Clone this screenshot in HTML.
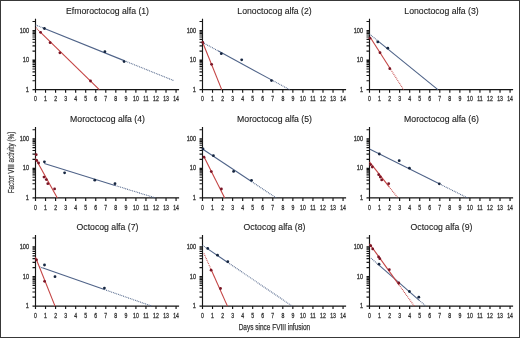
<!DOCTYPE html>
<html><head><meta charset="utf-8"><style>
html,body{margin:0;padding:0;background:#fff;}
body{width:520px;height:338px;overflow:hidden;font-family:"Liberation Sans", sans-serif;}
svg{display:block;}
</style></head><body>
<svg width="520" height="338" viewBox="0 0 520 338">
<defs><filter id="bl" x="-5%" y="-5%" width="110%" height="110%"><feGaussianBlur stdDeviation="0.35"/></filter></defs>
<rect x="0" y="0" width="520" height="338" fill="#fff"/>
<g filter="url(#bl)">
<text x="107.50" y="13.75" font-family="Liberation Sans, sans-serif" font-size="8.7" text-anchor="middle" fill="#222" stroke="#222" stroke-width="0.12">Efmoroctocog alfa (1)</text>
<path d="M35.50 18.65V89.65H179.10 M32.50 89.65H35.50 M32.50 80.74H35.50 M32.50 75.53H35.50 M32.50 71.83H35.50 M32.50 68.96H35.50 M32.50 66.62H35.50 M32.50 64.64H35.50 M32.50 62.92H35.50 M32.50 61.40H35.50 M32.50 60.05H35.50 M32.50 51.14H35.50 M32.50 45.93H35.50 M32.50 42.23H35.50 M32.50 39.36H35.50 M32.50 37.02H35.50 M32.50 35.04H35.50 M32.50 33.32H35.50 M32.50 31.80H35.50 M32.50 30.45H35.50 M32.50 21.54H35.50 M35.50 89.65V92.65 M45.54 89.65V92.65 M55.58 89.65V92.65 M65.62 89.65V92.65 M75.66 89.65V92.65 M85.70 89.65V92.65 M95.74 89.65V92.65 M105.78 89.65V92.65 M115.82 89.65V92.65 M125.86 89.65V92.65 M135.90 89.65V92.65 M145.94 89.65V92.65 M155.98 89.65V92.65 M166.02 89.65V92.65 M176.06 89.65V92.65" stroke="#161616" stroke-width="1.15" fill="none"/>
<text x="29.00" y="91.85" font-family="Liberation Sans, sans-serif" font-size="6.5" text-anchor="end" fill="#333" stroke="#333" stroke-width="0.28" transform="translate(29.00 0) scale(0.86 1) translate(-29.00 0)">1</text>
<text x="29.00" y="62.25" font-family="Liberation Sans, sans-serif" font-size="6.5" text-anchor="end" fill="#333" stroke="#333" stroke-width="0.28" transform="translate(29.00 0) scale(0.86 1) translate(-29.00 0)">10</text>
<text x="29.00" y="32.65" font-family="Liberation Sans, sans-serif" font-size="6.5" text-anchor="end" fill="#333" stroke="#333" stroke-width="0.28" transform="translate(29.00 0) scale(0.86 1) translate(-29.00 0)">100</text>
<text x="35.50" y="101.35" font-family="Liberation Sans, sans-serif" font-size="6.3" text-anchor="middle" fill="#333" stroke="#333" stroke-width="0.28" transform="translate(35.50 0) scale(0.82 1) translate(-35.50 0)">0</text>
<text x="45.54" y="101.35" font-family="Liberation Sans, sans-serif" font-size="6.3" text-anchor="middle" fill="#333" stroke="#333" stroke-width="0.28" transform="translate(45.54 0) scale(0.82 1) translate(-45.54 0)">1</text>
<text x="55.58" y="101.35" font-family="Liberation Sans, sans-serif" font-size="6.3" text-anchor="middle" fill="#333" stroke="#333" stroke-width="0.28" transform="translate(55.58 0) scale(0.82 1) translate(-55.58 0)">2</text>
<text x="65.62" y="101.35" font-family="Liberation Sans, sans-serif" font-size="6.3" text-anchor="middle" fill="#333" stroke="#333" stroke-width="0.28" transform="translate(65.62 0) scale(0.82 1) translate(-65.62 0)">3</text>
<text x="75.66" y="101.35" font-family="Liberation Sans, sans-serif" font-size="6.3" text-anchor="middle" fill="#333" stroke="#333" stroke-width="0.28" transform="translate(75.66 0) scale(0.82 1) translate(-75.66 0)">4</text>
<text x="85.70" y="101.35" font-family="Liberation Sans, sans-serif" font-size="6.3" text-anchor="middle" fill="#333" stroke="#333" stroke-width="0.28" transform="translate(85.70 0) scale(0.82 1) translate(-85.70 0)">5</text>
<text x="95.74" y="101.35" font-family="Liberation Sans, sans-serif" font-size="6.3" text-anchor="middle" fill="#333" stroke="#333" stroke-width="0.28" transform="translate(95.74 0) scale(0.82 1) translate(-95.74 0)">6</text>
<text x="105.78" y="101.35" font-family="Liberation Sans, sans-serif" font-size="6.3" text-anchor="middle" fill="#333" stroke="#333" stroke-width="0.28" transform="translate(105.78 0) scale(0.82 1) translate(-105.78 0)">7</text>
<text x="115.82" y="101.35" font-family="Liberation Sans, sans-serif" font-size="6.3" text-anchor="middle" fill="#333" stroke="#333" stroke-width="0.28" transform="translate(115.82 0) scale(0.82 1) translate(-115.82 0)">8</text>
<text x="125.86" y="101.35" font-family="Liberation Sans, sans-serif" font-size="6.3" text-anchor="middle" fill="#333" stroke="#333" stroke-width="0.28" transform="translate(125.86 0) scale(0.82 1) translate(-125.86 0)">9</text>
<text x="135.90" y="101.35" font-family="Liberation Sans, sans-serif" font-size="6.3" text-anchor="middle" fill="#333" stroke="#333" stroke-width="0.28" transform="translate(135.90 0) scale(0.82 1) translate(-135.90 0)">10</text>
<text x="145.94" y="101.35" font-family="Liberation Sans, sans-serif" font-size="6.3" text-anchor="middle" fill="#333" stroke="#333" stroke-width="0.28" transform="translate(145.94 0) scale(0.82 1) translate(-145.94 0)">11</text>
<text x="155.98" y="101.35" font-family="Liberation Sans, sans-serif" font-size="6.3" text-anchor="middle" fill="#333" stroke="#333" stroke-width="0.28" transform="translate(155.98 0) scale(0.82 1) translate(-155.98 0)">12</text>
<text x="166.02" y="101.35" font-family="Liberation Sans, sans-serif" font-size="6.3" text-anchor="middle" fill="#333" stroke="#333" stroke-width="0.28" transform="translate(166.02 0) scale(0.82 1) translate(-166.02 0)">13</text>
<text x="176.06" y="101.35" font-family="Liberation Sans, sans-serif" font-size="6.3" text-anchor="middle" fill="#333" stroke="#333" stroke-width="0.28" transform="translate(176.06 0) scale(0.82 1) translate(-176.06 0)">14</text>
<line x1="35.50" y1="24.91" x2="44.40" y2="28.50" stroke="#4f6388" stroke-width="1.1" stroke-dasharray="0.9 0.9"/>
<line x1="44.40" y1="28.50" x2="124.10" y2="60.62" stroke="#4f6388" stroke-width="1.1"/>
<line x1="124.10" y1="60.62" x2="174.00" y2="80.73" stroke="#4f6388" stroke-width="1.1" stroke-dasharray="0.9 0.9"/>
<circle cx="44.40" cy="28.50" r="1.4" fill="#15253f"/>
<circle cx="104.90" cy="51.70" r="1.4" fill="#15253f"/>
<circle cx="124.10" cy="61.60" r="1.4" fill="#15253f"/>
<line x1="35.80" y1="27.61" x2="40.60" y2="32.30" stroke="#c44444" stroke-width="1.1" stroke-dasharray="0.9 0.9"/>
<line x1="40.60" y1="32.30" x2="99.30" y2="89.65" stroke="#c44444" stroke-width="1.1"/>
<circle cx="40.60" cy="32.30" r="1.4" fill="#7a1525"/>
<circle cx="50.10" cy="42.70" r="1.4" fill="#7a1525"/>
<circle cx="59.90" cy="52.80" r="1.4" fill="#7a1525"/>
<circle cx="90.50" cy="81.00" r="1.4" fill="#7a1525"/>
<text x="274.50" y="13.75" font-family="Liberation Sans, sans-serif" font-size="8.7" text-anchor="middle" fill="#222" stroke="#222" stroke-width="0.12">Lonoctocog alfa (2)</text>
<path d="M202.50 18.65V89.65H346.10 M199.50 89.65H202.50 M199.50 80.74H202.50 M199.50 75.53H202.50 M199.50 71.83H202.50 M199.50 68.96H202.50 M199.50 66.62H202.50 M199.50 64.64H202.50 M199.50 62.92H202.50 M199.50 61.40H202.50 M199.50 60.05H202.50 M199.50 51.14H202.50 M199.50 45.93H202.50 M199.50 42.23H202.50 M199.50 39.36H202.50 M199.50 37.02H202.50 M199.50 35.04H202.50 M199.50 33.32H202.50 M199.50 31.80H202.50 M199.50 30.45H202.50 M199.50 21.54H202.50 M202.50 89.65V92.65 M212.54 89.65V92.65 M222.58 89.65V92.65 M232.62 89.65V92.65 M242.66 89.65V92.65 M252.70 89.65V92.65 M262.74 89.65V92.65 M272.78 89.65V92.65 M282.82 89.65V92.65 M292.86 89.65V92.65 M302.90 89.65V92.65 M312.94 89.65V92.65 M322.98 89.65V92.65 M333.02 89.65V92.65 M343.06 89.65V92.65" stroke="#161616" stroke-width="1.15" fill="none"/>
<text x="196.00" y="91.85" font-family="Liberation Sans, sans-serif" font-size="6.5" text-anchor="end" fill="#333" stroke="#333" stroke-width="0.28" transform="translate(196.00 0) scale(0.86 1) translate(-196.00 0)">1</text>
<text x="196.00" y="62.25" font-family="Liberation Sans, sans-serif" font-size="6.5" text-anchor="end" fill="#333" stroke="#333" stroke-width="0.28" transform="translate(196.00 0) scale(0.86 1) translate(-196.00 0)">10</text>
<text x="196.00" y="32.65" font-family="Liberation Sans, sans-serif" font-size="6.5" text-anchor="end" fill="#333" stroke="#333" stroke-width="0.28" transform="translate(196.00 0) scale(0.86 1) translate(-196.00 0)">100</text>
<text x="202.50" y="101.35" font-family="Liberation Sans, sans-serif" font-size="6.3" text-anchor="middle" fill="#333" stroke="#333" stroke-width="0.28" transform="translate(202.50 0) scale(0.82 1) translate(-202.50 0)">0</text>
<text x="212.54" y="101.35" font-family="Liberation Sans, sans-serif" font-size="6.3" text-anchor="middle" fill="#333" stroke="#333" stroke-width="0.28" transform="translate(212.54 0) scale(0.82 1) translate(-212.54 0)">1</text>
<text x="222.58" y="101.35" font-family="Liberation Sans, sans-serif" font-size="6.3" text-anchor="middle" fill="#333" stroke="#333" stroke-width="0.28" transform="translate(222.58 0) scale(0.82 1) translate(-222.58 0)">2</text>
<text x="232.62" y="101.35" font-family="Liberation Sans, sans-serif" font-size="6.3" text-anchor="middle" fill="#333" stroke="#333" stroke-width="0.28" transform="translate(232.62 0) scale(0.82 1) translate(-232.62 0)">3</text>
<text x="242.66" y="101.35" font-family="Liberation Sans, sans-serif" font-size="6.3" text-anchor="middle" fill="#333" stroke="#333" stroke-width="0.28" transform="translate(242.66 0) scale(0.82 1) translate(-242.66 0)">4</text>
<text x="252.70" y="101.35" font-family="Liberation Sans, sans-serif" font-size="6.3" text-anchor="middle" fill="#333" stroke="#333" stroke-width="0.28" transform="translate(252.70 0) scale(0.82 1) translate(-252.70 0)">5</text>
<text x="262.74" y="101.35" font-family="Liberation Sans, sans-serif" font-size="6.3" text-anchor="middle" fill="#333" stroke="#333" stroke-width="0.28" transform="translate(262.74 0) scale(0.82 1) translate(-262.74 0)">6</text>
<text x="272.78" y="101.35" font-family="Liberation Sans, sans-serif" font-size="6.3" text-anchor="middle" fill="#333" stroke="#333" stroke-width="0.28" transform="translate(272.78 0) scale(0.82 1) translate(-272.78 0)">7</text>
<text x="282.82" y="101.35" font-family="Liberation Sans, sans-serif" font-size="6.3" text-anchor="middle" fill="#333" stroke="#333" stroke-width="0.28" transform="translate(282.82 0) scale(0.82 1) translate(-282.82 0)">8</text>
<text x="292.86" y="101.35" font-family="Liberation Sans, sans-serif" font-size="6.3" text-anchor="middle" fill="#333" stroke="#333" stroke-width="0.28" transform="translate(292.86 0) scale(0.82 1) translate(-292.86 0)">9</text>
<text x="302.90" y="101.35" font-family="Liberation Sans, sans-serif" font-size="6.3" text-anchor="middle" fill="#333" stroke="#333" stroke-width="0.28" transform="translate(302.90 0) scale(0.82 1) translate(-302.90 0)">10</text>
<text x="312.94" y="101.35" font-family="Liberation Sans, sans-serif" font-size="6.3" text-anchor="middle" fill="#333" stroke="#333" stroke-width="0.28" transform="translate(312.94 0) scale(0.82 1) translate(-312.94 0)">11</text>
<text x="322.98" y="101.35" font-family="Liberation Sans, sans-serif" font-size="6.3" text-anchor="middle" fill="#333" stroke="#333" stroke-width="0.28" transform="translate(322.98 0) scale(0.82 1) translate(-322.98 0)">12</text>
<text x="333.02" y="101.35" font-family="Liberation Sans, sans-serif" font-size="6.3" text-anchor="middle" fill="#333" stroke="#333" stroke-width="0.28" transform="translate(333.02 0) scale(0.82 1) translate(-333.02 0)">13</text>
<text x="343.06" y="101.35" font-family="Liberation Sans, sans-serif" font-size="6.3" text-anchor="middle" fill="#333" stroke="#333" stroke-width="0.28" transform="translate(343.06 0) scale(0.82 1) translate(-343.06 0)">14</text>
<line x1="202.50" y1="42.39" x2="218.00" y2="50.81" stroke="#4f6388" stroke-width="1.1" stroke-dasharray="0.9 0.9"/>
<line x1="218.00" y1="50.81" x2="271.50" y2="79.86" stroke="#4f6388" stroke-width="1.1"/>
<line x1="271.50" y1="79.86" x2="289.53" y2="89.65" stroke="#4f6388" stroke-width="1.1" stroke-dasharray="0.9 0.9"/>
<circle cx="221.30" cy="53.70" r="1.4" fill="#15253f"/>
<circle cx="241.70" cy="59.80" r="1.4" fill="#15253f"/>
<circle cx="271.50" cy="80.60" r="1.4" fill="#15253f"/>
<line x1="202.50" y1="42.00" x2="221.71" y2="89.65" stroke="#c44444" stroke-width="1.1"/>
<circle cx="202.80" cy="42.50" r="1.4" fill="#7a1525"/>
<circle cx="211.60" cy="64.30" r="1.4" fill="#7a1525"/>
<text x="441.50" y="13.75" font-family="Liberation Sans, sans-serif" font-size="8.7" text-anchor="middle" fill="#222" stroke="#222" stroke-width="0.12">Lonoctocog alfa (3)</text>
<path d="M369.50 18.65V89.65H513.10 M366.50 89.65H369.50 M366.50 80.74H369.50 M366.50 75.53H369.50 M366.50 71.83H369.50 M366.50 68.96H369.50 M366.50 66.62H369.50 M366.50 64.64H369.50 M366.50 62.92H369.50 M366.50 61.40H369.50 M366.50 60.05H369.50 M366.50 51.14H369.50 M366.50 45.93H369.50 M366.50 42.23H369.50 M366.50 39.36H369.50 M366.50 37.02H369.50 M366.50 35.04H369.50 M366.50 33.32H369.50 M366.50 31.80H369.50 M366.50 30.45H369.50 M366.50 21.54H369.50 M369.50 89.65V92.65 M379.54 89.65V92.65 M389.58 89.65V92.65 M399.62 89.65V92.65 M409.66 89.65V92.65 M419.70 89.65V92.65 M429.74 89.65V92.65 M439.78 89.65V92.65 M449.82 89.65V92.65 M459.86 89.65V92.65 M469.90 89.65V92.65 M479.94 89.65V92.65 M489.98 89.65V92.65 M500.02 89.65V92.65 M510.06 89.65V92.65" stroke="#161616" stroke-width="1.15" fill="none"/>
<text x="363.00" y="91.85" font-family="Liberation Sans, sans-serif" font-size="6.5" text-anchor="end" fill="#333" stroke="#333" stroke-width="0.28" transform="translate(363.00 0) scale(0.86 1) translate(-363.00 0)">1</text>
<text x="363.00" y="62.25" font-family="Liberation Sans, sans-serif" font-size="6.5" text-anchor="end" fill="#333" stroke="#333" stroke-width="0.28" transform="translate(363.00 0) scale(0.86 1) translate(-363.00 0)">10</text>
<text x="363.00" y="32.65" font-family="Liberation Sans, sans-serif" font-size="6.5" text-anchor="end" fill="#333" stroke="#333" stroke-width="0.28" transform="translate(363.00 0) scale(0.86 1) translate(-363.00 0)">100</text>
<text x="369.50" y="101.35" font-family="Liberation Sans, sans-serif" font-size="6.3" text-anchor="middle" fill="#333" stroke="#333" stroke-width="0.28" transform="translate(369.50 0) scale(0.82 1) translate(-369.50 0)">0</text>
<text x="379.54" y="101.35" font-family="Liberation Sans, sans-serif" font-size="6.3" text-anchor="middle" fill="#333" stroke="#333" stroke-width="0.28" transform="translate(379.54 0) scale(0.82 1) translate(-379.54 0)">1</text>
<text x="389.58" y="101.35" font-family="Liberation Sans, sans-serif" font-size="6.3" text-anchor="middle" fill="#333" stroke="#333" stroke-width="0.28" transform="translate(389.58 0) scale(0.82 1) translate(-389.58 0)">2</text>
<text x="399.62" y="101.35" font-family="Liberation Sans, sans-serif" font-size="6.3" text-anchor="middle" fill="#333" stroke="#333" stroke-width="0.28" transform="translate(399.62 0) scale(0.82 1) translate(-399.62 0)">3</text>
<text x="409.66" y="101.35" font-family="Liberation Sans, sans-serif" font-size="6.3" text-anchor="middle" fill="#333" stroke="#333" stroke-width="0.28" transform="translate(409.66 0) scale(0.82 1) translate(-409.66 0)">4</text>
<text x="419.70" y="101.35" font-family="Liberation Sans, sans-serif" font-size="6.3" text-anchor="middle" fill="#333" stroke="#333" stroke-width="0.28" transform="translate(419.70 0) scale(0.82 1) translate(-419.70 0)">5</text>
<text x="429.74" y="101.35" font-family="Liberation Sans, sans-serif" font-size="6.3" text-anchor="middle" fill="#333" stroke="#333" stroke-width="0.28" transform="translate(429.74 0) scale(0.82 1) translate(-429.74 0)">6</text>
<text x="439.78" y="101.35" font-family="Liberation Sans, sans-serif" font-size="6.3" text-anchor="middle" fill="#333" stroke="#333" stroke-width="0.28" transform="translate(439.78 0) scale(0.82 1) translate(-439.78 0)">7</text>
<text x="449.82" y="101.35" font-family="Liberation Sans, sans-serif" font-size="6.3" text-anchor="middle" fill="#333" stroke="#333" stroke-width="0.28" transform="translate(449.82 0) scale(0.82 1) translate(-449.82 0)">8</text>
<text x="459.86" y="101.35" font-family="Liberation Sans, sans-serif" font-size="6.3" text-anchor="middle" fill="#333" stroke="#333" stroke-width="0.28" transform="translate(459.86 0) scale(0.82 1) translate(-459.86 0)">9</text>
<text x="469.90" y="101.35" font-family="Liberation Sans, sans-serif" font-size="6.3" text-anchor="middle" fill="#333" stroke="#333" stroke-width="0.28" transform="translate(469.90 0) scale(0.82 1) translate(-469.90 0)">10</text>
<text x="479.94" y="101.35" font-family="Liberation Sans, sans-serif" font-size="6.3" text-anchor="middle" fill="#333" stroke="#333" stroke-width="0.28" transform="translate(479.94 0) scale(0.82 1) translate(-479.94 0)">11</text>
<text x="489.98" y="101.35" font-family="Liberation Sans, sans-serif" font-size="6.3" text-anchor="middle" fill="#333" stroke="#333" stroke-width="0.28" transform="translate(489.98 0) scale(0.82 1) translate(-489.98 0)">12</text>
<text x="500.02" y="101.35" font-family="Liberation Sans, sans-serif" font-size="6.3" text-anchor="middle" fill="#333" stroke="#333" stroke-width="0.28" transform="translate(500.02 0) scale(0.82 1) translate(-500.02 0)">13</text>
<text x="510.06" y="101.35" font-family="Liberation Sans, sans-serif" font-size="6.3" text-anchor="middle" fill="#333" stroke="#333" stroke-width="0.28" transform="translate(510.06 0) scale(0.82 1) translate(-510.06 0)">14</text>
<line x1="369.50" y1="34.08" x2="377.80" y2="40.83" stroke="#4f6388" stroke-width="1.1" stroke-dasharray="0.9 0.9"/>
<line x1="377.80" y1="40.83" x2="437.85" y2="89.65" stroke="#4f6388" stroke-width="1.1"/>
<circle cx="377.80" cy="41.90" r="1.4" fill="#15253f"/>
<circle cx="387.80" cy="48.20" r="1.4" fill="#15253f"/>
<line x1="370.00" y1="36.94" x2="389.80" y2="68.03" stroke="#c44444" stroke-width="1.1"/>
<line x1="389.80" y1="68.03" x2="403.57" y2="89.65" stroke="#c44444" stroke-width="1.1" stroke-dasharray="0.9 0.9"/>
<circle cx="370.00" cy="38.20" r="1.4" fill="#7a1525"/>
<circle cx="380.00" cy="52.70" r="1.4" fill="#7a1525"/>
<circle cx="389.80" cy="68.70" r="1.4" fill="#7a1525"/>
<text x="107.50" y="122.00" font-family="Liberation Sans, sans-serif" font-size="8.7" text-anchor="middle" fill="#222" stroke="#222" stroke-width="0.12">Moroctocog alfa (4)</text>
<path d="M35.50 126.90V197.90H179.10 M32.50 197.90H35.50 M32.50 188.99H35.50 M32.50 183.78H35.50 M32.50 180.08H35.50 M32.50 177.21H35.50 M32.50 174.87H35.50 M32.50 172.89H35.50 M32.50 171.17H35.50 M32.50 169.65H35.50 M32.50 168.30H35.50 M32.50 159.39H35.50 M32.50 154.18H35.50 M32.50 150.48H35.50 M32.50 147.61H35.50 M32.50 145.27H35.50 M32.50 143.29H35.50 M32.50 141.57H35.50 M32.50 140.05H35.50 M32.50 138.70H35.50 M32.50 129.79H35.50 M35.50 197.90V200.90 M45.54 197.90V200.90 M55.58 197.90V200.90 M65.62 197.90V200.90 M75.66 197.90V200.90 M85.70 197.90V200.90 M95.74 197.90V200.90 M105.78 197.90V200.90 M115.82 197.90V200.90 M125.86 197.90V200.90 M135.90 197.90V200.90 M145.94 197.90V200.90 M155.98 197.90V200.90 M166.02 197.90V200.90 M176.06 197.90V200.90" stroke="#161616" stroke-width="1.15" fill="none"/>
<text x="29.00" y="200.10" font-family="Liberation Sans, sans-serif" font-size="6.5" text-anchor="end" fill="#333" stroke="#333" stroke-width="0.28" transform="translate(29.00 0) scale(0.86 1) translate(-29.00 0)">1</text>
<text x="29.00" y="170.50" font-family="Liberation Sans, sans-serif" font-size="6.5" text-anchor="end" fill="#333" stroke="#333" stroke-width="0.28" transform="translate(29.00 0) scale(0.86 1) translate(-29.00 0)">10</text>
<text x="29.00" y="140.90" font-family="Liberation Sans, sans-serif" font-size="6.5" text-anchor="end" fill="#333" stroke="#333" stroke-width="0.28" transform="translate(29.00 0) scale(0.86 1) translate(-29.00 0)">100</text>
<text x="35.50" y="209.60" font-family="Liberation Sans, sans-serif" font-size="6.3" text-anchor="middle" fill="#333" stroke="#333" stroke-width="0.28" transform="translate(35.50 0) scale(0.82 1) translate(-35.50 0)">0</text>
<text x="45.54" y="209.60" font-family="Liberation Sans, sans-serif" font-size="6.3" text-anchor="middle" fill="#333" stroke="#333" stroke-width="0.28" transform="translate(45.54 0) scale(0.82 1) translate(-45.54 0)">1</text>
<text x="55.58" y="209.60" font-family="Liberation Sans, sans-serif" font-size="6.3" text-anchor="middle" fill="#333" stroke="#333" stroke-width="0.28" transform="translate(55.58 0) scale(0.82 1) translate(-55.58 0)">2</text>
<text x="65.62" y="209.60" font-family="Liberation Sans, sans-serif" font-size="6.3" text-anchor="middle" fill="#333" stroke="#333" stroke-width="0.28" transform="translate(65.62 0) scale(0.82 1) translate(-65.62 0)">3</text>
<text x="75.66" y="209.60" font-family="Liberation Sans, sans-serif" font-size="6.3" text-anchor="middle" fill="#333" stroke="#333" stroke-width="0.28" transform="translate(75.66 0) scale(0.82 1) translate(-75.66 0)">4</text>
<text x="85.70" y="209.60" font-family="Liberation Sans, sans-serif" font-size="6.3" text-anchor="middle" fill="#333" stroke="#333" stroke-width="0.28" transform="translate(85.70 0) scale(0.82 1) translate(-85.70 0)">5</text>
<text x="95.74" y="209.60" font-family="Liberation Sans, sans-serif" font-size="6.3" text-anchor="middle" fill="#333" stroke="#333" stroke-width="0.28" transform="translate(95.74 0) scale(0.82 1) translate(-95.74 0)">6</text>
<text x="105.78" y="209.60" font-family="Liberation Sans, sans-serif" font-size="6.3" text-anchor="middle" fill="#333" stroke="#333" stroke-width="0.28" transform="translate(105.78 0) scale(0.82 1) translate(-105.78 0)">7</text>
<text x="115.82" y="209.60" font-family="Liberation Sans, sans-serif" font-size="6.3" text-anchor="middle" fill="#333" stroke="#333" stroke-width="0.28" transform="translate(115.82 0) scale(0.82 1) translate(-115.82 0)">8</text>
<text x="125.86" y="209.60" font-family="Liberation Sans, sans-serif" font-size="6.3" text-anchor="middle" fill="#333" stroke="#333" stroke-width="0.28" transform="translate(125.86 0) scale(0.82 1) translate(-125.86 0)">9</text>
<text x="135.90" y="209.60" font-family="Liberation Sans, sans-serif" font-size="6.3" text-anchor="middle" fill="#333" stroke="#333" stroke-width="0.28" transform="translate(135.90 0) scale(0.82 1) translate(-135.90 0)">10</text>
<text x="145.94" y="209.60" font-family="Liberation Sans, sans-serif" font-size="6.3" text-anchor="middle" fill="#333" stroke="#333" stroke-width="0.28" transform="translate(145.94 0) scale(0.82 1) translate(-145.94 0)">11</text>
<text x="155.98" y="209.60" font-family="Liberation Sans, sans-serif" font-size="6.3" text-anchor="middle" fill="#333" stroke="#333" stroke-width="0.28" transform="translate(155.98 0) scale(0.82 1) translate(-155.98 0)">12</text>
<text x="166.02" y="209.60" font-family="Liberation Sans, sans-serif" font-size="6.3" text-anchor="middle" fill="#333" stroke="#333" stroke-width="0.28" transform="translate(166.02 0) scale(0.82 1) translate(-166.02 0)">13</text>
<text x="176.06" y="209.60" font-family="Liberation Sans, sans-serif" font-size="6.3" text-anchor="middle" fill="#333" stroke="#333" stroke-width="0.28" transform="translate(176.06 0) scale(0.82 1) translate(-176.06 0)">14</text>
<line x1="44.30" y1="163.50" x2="115.00" y2="185.42" stroke="#4f6388" stroke-width="1.1"/>
<line x1="115.00" y1="185.42" x2="155.27" y2="197.90" stroke="#4f6388" stroke-width="1.1" stroke-dasharray="0.9 0.9"/>
<circle cx="44.40" cy="161.80" r="1.4" fill="#15253f"/>
<circle cx="64.60" cy="172.80" r="1.4" fill="#15253f"/>
<circle cx="94.80" cy="180.20" r="1.4" fill="#15253f"/>
<circle cx="115.00" cy="183.70" r="1.4" fill="#15253f"/>
<line x1="35.50" y1="158.60" x2="57.33" y2="197.90" stroke="#c44444" stroke-width="1.1"/>
<circle cx="36.20" cy="154.70" r="1.4" fill="#7a1525"/>
<circle cx="36.70" cy="160.40" r="1.4" fill="#7a1525"/>
<circle cx="38.60" cy="163.00" r="1.4" fill="#7a1525"/>
<circle cx="44.00" cy="177.10" r="1.4" fill="#7a1525"/>
<circle cx="46.30" cy="179.60" r="1.4" fill="#7a1525"/>
<circle cx="47.80" cy="183.70" r="1.4" fill="#7a1525"/>
<circle cx="54.60" cy="188.90" r="1.4" fill="#7a1525"/>
<text x="274.50" y="122.00" font-family="Liberation Sans, sans-serif" font-size="8.7" text-anchor="middle" fill="#222" stroke="#222" stroke-width="0.12">Moroctocog alfa (5)</text>
<path d="M202.50 126.90V197.90H346.10 M199.50 197.90H202.50 M199.50 188.99H202.50 M199.50 183.78H202.50 M199.50 180.08H202.50 M199.50 177.21H202.50 M199.50 174.87H202.50 M199.50 172.89H202.50 M199.50 171.17H202.50 M199.50 169.65H202.50 M199.50 168.30H202.50 M199.50 159.39H202.50 M199.50 154.18H202.50 M199.50 150.48H202.50 M199.50 147.61H202.50 M199.50 145.27H202.50 M199.50 143.29H202.50 M199.50 141.57H202.50 M199.50 140.05H202.50 M199.50 138.70H202.50 M199.50 129.79H202.50 M202.50 197.90V200.90 M212.54 197.90V200.90 M222.58 197.90V200.90 M232.62 197.90V200.90 M242.66 197.90V200.90 M252.70 197.90V200.90 M262.74 197.90V200.90 M272.78 197.90V200.90 M282.82 197.90V200.90 M292.86 197.90V200.90 M302.90 197.90V200.90 M312.94 197.90V200.90 M322.98 197.90V200.90 M333.02 197.90V200.90 M343.06 197.90V200.90" stroke="#161616" stroke-width="1.15" fill="none"/>
<text x="196.00" y="200.10" font-family="Liberation Sans, sans-serif" font-size="6.5" text-anchor="end" fill="#333" stroke="#333" stroke-width="0.28" transform="translate(196.00 0) scale(0.86 1) translate(-196.00 0)">1</text>
<text x="196.00" y="170.50" font-family="Liberation Sans, sans-serif" font-size="6.5" text-anchor="end" fill="#333" stroke="#333" stroke-width="0.28" transform="translate(196.00 0) scale(0.86 1) translate(-196.00 0)">10</text>
<text x="196.00" y="140.90" font-family="Liberation Sans, sans-serif" font-size="6.5" text-anchor="end" fill="#333" stroke="#333" stroke-width="0.28" transform="translate(196.00 0) scale(0.86 1) translate(-196.00 0)">100</text>
<text x="202.50" y="209.60" font-family="Liberation Sans, sans-serif" font-size="6.3" text-anchor="middle" fill="#333" stroke="#333" stroke-width="0.28" transform="translate(202.50 0) scale(0.82 1) translate(-202.50 0)">0</text>
<text x="212.54" y="209.60" font-family="Liberation Sans, sans-serif" font-size="6.3" text-anchor="middle" fill="#333" stroke="#333" stroke-width="0.28" transform="translate(212.54 0) scale(0.82 1) translate(-212.54 0)">1</text>
<text x="222.58" y="209.60" font-family="Liberation Sans, sans-serif" font-size="6.3" text-anchor="middle" fill="#333" stroke="#333" stroke-width="0.28" transform="translate(222.58 0) scale(0.82 1) translate(-222.58 0)">2</text>
<text x="232.62" y="209.60" font-family="Liberation Sans, sans-serif" font-size="6.3" text-anchor="middle" fill="#333" stroke="#333" stroke-width="0.28" transform="translate(232.62 0) scale(0.82 1) translate(-232.62 0)">3</text>
<text x="242.66" y="209.60" font-family="Liberation Sans, sans-serif" font-size="6.3" text-anchor="middle" fill="#333" stroke="#333" stroke-width="0.28" transform="translate(242.66 0) scale(0.82 1) translate(-242.66 0)">4</text>
<text x="252.70" y="209.60" font-family="Liberation Sans, sans-serif" font-size="6.3" text-anchor="middle" fill="#333" stroke="#333" stroke-width="0.28" transform="translate(252.70 0) scale(0.82 1) translate(-252.70 0)">5</text>
<text x="262.74" y="209.60" font-family="Liberation Sans, sans-serif" font-size="6.3" text-anchor="middle" fill="#333" stroke="#333" stroke-width="0.28" transform="translate(262.74 0) scale(0.82 1) translate(-262.74 0)">6</text>
<text x="272.78" y="209.60" font-family="Liberation Sans, sans-serif" font-size="6.3" text-anchor="middle" fill="#333" stroke="#333" stroke-width="0.28" transform="translate(272.78 0) scale(0.82 1) translate(-272.78 0)">7</text>
<text x="282.82" y="209.60" font-family="Liberation Sans, sans-serif" font-size="6.3" text-anchor="middle" fill="#333" stroke="#333" stroke-width="0.28" transform="translate(282.82 0) scale(0.82 1) translate(-282.82 0)">8</text>
<text x="292.86" y="209.60" font-family="Liberation Sans, sans-serif" font-size="6.3" text-anchor="middle" fill="#333" stroke="#333" stroke-width="0.28" transform="translate(292.86 0) scale(0.82 1) translate(-292.86 0)">9</text>
<text x="302.90" y="209.60" font-family="Liberation Sans, sans-serif" font-size="6.3" text-anchor="middle" fill="#333" stroke="#333" stroke-width="0.28" transform="translate(302.90 0) scale(0.82 1) translate(-302.90 0)">10</text>
<text x="312.94" y="209.60" font-family="Liberation Sans, sans-serif" font-size="6.3" text-anchor="middle" fill="#333" stroke="#333" stroke-width="0.28" transform="translate(312.94 0) scale(0.82 1) translate(-312.94 0)">11</text>
<text x="322.98" y="209.60" font-family="Liberation Sans, sans-serif" font-size="6.3" text-anchor="middle" fill="#333" stroke="#333" stroke-width="0.28" transform="translate(322.98 0) scale(0.82 1) translate(-322.98 0)">12</text>
<text x="333.02" y="209.60" font-family="Liberation Sans, sans-serif" font-size="6.3" text-anchor="middle" fill="#333" stroke="#333" stroke-width="0.28" transform="translate(333.02 0) scale(0.82 1) translate(-333.02 0)">13</text>
<text x="343.06" y="209.60" font-family="Liberation Sans, sans-serif" font-size="6.3" text-anchor="middle" fill="#333" stroke="#333" stroke-width="0.28" transform="translate(343.06 0) scale(0.82 1) translate(-343.06 0)">14</text>
<line x1="202.50" y1="149.07" x2="251.50" y2="181.50" stroke="#4f6388" stroke-width="1.1"/>
<line x1="251.50" y1="181.50" x2="276.27" y2="197.90" stroke="#4f6388" stroke-width="1.1" stroke-dasharray="0.9 0.9"/>
<circle cx="203.00" cy="148.90" r="1.4" fill="#15253f"/>
<circle cx="213.40" cy="155.70" r="1.4" fill="#15253f"/>
<circle cx="233.60" cy="171.40" r="1.4" fill="#15253f"/>
<circle cx="251.50" cy="180.30" r="1.4" fill="#15253f"/>
<line x1="203.60" y1="156.01" x2="224.70" y2="197.90" stroke="#c44444" stroke-width="1.1"/>
<circle cx="204.00" cy="157.20" r="1.4" fill="#7a1525"/>
<circle cx="211.30" cy="171.60" r="1.4" fill="#7a1525"/>
<circle cx="221.40" cy="189.00" r="1.4" fill="#7a1525"/>
<text x="441.50" y="122.00" font-family="Liberation Sans, sans-serif" font-size="8.7" text-anchor="middle" fill="#222" stroke="#222" stroke-width="0.12">Moroctocog alfa (6)</text>
<path d="M369.50 126.90V197.90H513.10 M366.50 197.90H369.50 M366.50 188.99H369.50 M366.50 183.78H369.50 M366.50 180.08H369.50 M366.50 177.21H369.50 M366.50 174.87H369.50 M366.50 172.89H369.50 M366.50 171.17H369.50 M366.50 169.65H369.50 M366.50 168.30H369.50 M366.50 159.39H369.50 M366.50 154.18H369.50 M366.50 150.48H369.50 M366.50 147.61H369.50 M366.50 145.27H369.50 M366.50 143.29H369.50 M366.50 141.57H369.50 M366.50 140.05H369.50 M366.50 138.70H369.50 M366.50 129.79H369.50 M369.50 197.90V200.90 M379.54 197.90V200.90 M389.58 197.90V200.90 M399.62 197.90V200.90 M409.66 197.90V200.90 M419.70 197.90V200.90 M429.74 197.90V200.90 M439.78 197.90V200.90 M449.82 197.90V200.90 M459.86 197.90V200.90 M469.90 197.90V200.90 M479.94 197.90V200.90 M489.98 197.90V200.90 M500.02 197.90V200.90 M510.06 197.90V200.90" stroke="#161616" stroke-width="1.15" fill="none"/>
<text x="363.00" y="200.10" font-family="Liberation Sans, sans-serif" font-size="6.5" text-anchor="end" fill="#333" stroke="#333" stroke-width="0.28" transform="translate(363.00 0) scale(0.86 1) translate(-363.00 0)">1</text>
<text x="363.00" y="170.50" font-family="Liberation Sans, sans-serif" font-size="6.5" text-anchor="end" fill="#333" stroke="#333" stroke-width="0.28" transform="translate(363.00 0) scale(0.86 1) translate(-363.00 0)">10</text>
<text x="363.00" y="140.90" font-family="Liberation Sans, sans-serif" font-size="6.5" text-anchor="end" fill="#333" stroke="#333" stroke-width="0.28" transform="translate(363.00 0) scale(0.86 1) translate(-363.00 0)">100</text>
<text x="369.50" y="209.60" font-family="Liberation Sans, sans-serif" font-size="6.3" text-anchor="middle" fill="#333" stroke="#333" stroke-width="0.28" transform="translate(369.50 0) scale(0.82 1) translate(-369.50 0)">0</text>
<text x="379.54" y="209.60" font-family="Liberation Sans, sans-serif" font-size="6.3" text-anchor="middle" fill="#333" stroke="#333" stroke-width="0.28" transform="translate(379.54 0) scale(0.82 1) translate(-379.54 0)">1</text>
<text x="389.58" y="209.60" font-family="Liberation Sans, sans-serif" font-size="6.3" text-anchor="middle" fill="#333" stroke="#333" stroke-width="0.28" transform="translate(389.58 0) scale(0.82 1) translate(-389.58 0)">2</text>
<text x="399.62" y="209.60" font-family="Liberation Sans, sans-serif" font-size="6.3" text-anchor="middle" fill="#333" stroke="#333" stroke-width="0.28" transform="translate(399.62 0) scale(0.82 1) translate(-399.62 0)">3</text>
<text x="409.66" y="209.60" font-family="Liberation Sans, sans-serif" font-size="6.3" text-anchor="middle" fill="#333" stroke="#333" stroke-width="0.28" transform="translate(409.66 0) scale(0.82 1) translate(-409.66 0)">4</text>
<text x="419.70" y="209.60" font-family="Liberation Sans, sans-serif" font-size="6.3" text-anchor="middle" fill="#333" stroke="#333" stroke-width="0.28" transform="translate(419.70 0) scale(0.82 1) translate(-419.70 0)">5</text>
<text x="429.74" y="209.60" font-family="Liberation Sans, sans-serif" font-size="6.3" text-anchor="middle" fill="#333" stroke="#333" stroke-width="0.28" transform="translate(429.74 0) scale(0.82 1) translate(-429.74 0)">6</text>
<text x="439.78" y="209.60" font-family="Liberation Sans, sans-serif" font-size="6.3" text-anchor="middle" fill="#333" stroke="#333" stroke-width="0.28" transform="translate(439.78 0) scale(0.82 1) translate(-439.78 0)">7</text>
<text x="449.82" y="209.60" font-family="Liberation Sans, sans-serif" font-size="6.3" text-anchor="middle" fill="#333" stroke="#333" stroke-width="0.28" transform="translate(449.82 0) scale(0.82 1) translate(-449.82 0)">8</text>
<text x="459.86" y="209.60" font-family="Liberation Sans, sans-serif" font-size="6.3" text-anchor="middle" fill="#333" stroke="#333" stroke-width="0.28" transform="translate(459.86 0) scale(0.82 1) translate(-459.86 0)">9</text>
<text x="469.90" y="209.60" font-family="Liberation Sans, sans-serif" font-size="6.3" text-anchor="middle" fill="#333" stroke="#333" stroke-width="0.28" transform="translate(469.90 0) scale(0.82 1) translate(-469.90 0)">10</text>
<text x="479.94" y="209.60" font-family="Liberation Sans, sans-serif" font-size="6.3" text-anchor="middle" fill="#333" stroke="#333" stroke-width="0.28" transform="translate(479.94 0) scale(0.82 1) translate(-479.94 0)">11</text>
<text x="489.98" y="209.60" font-family="Liberation Sans, sans-serif" font-size="6.3" text-anchor="middle" fill="#333" stroke="#333" stroke-width="0.28" transform="translate(489.98 0) scale(0.82 1) translate(-489.98 0)">12</text>
<text x="500.02" y="209.60" font-family="Liberation Sans, sans-serif" font-size="6.3" text-anchor="middle" fill="#333" stroke="#333" stroke-width="0.28" transform="translate(500.02 0) scale(0.82 1) translate(-500.02 0)">13</text>
<text x="510.06" y="209.60" font-family="Liberation Sans, sans-serif" font-size="6.3" text-anchor="middle" fill="#333" stroke="#333" stroke-width="0.28" transform="translate(510.06 0) scale(0.82 1) translate(-510.06 0)">14</text>
<line x1="369.50" y1="148.90" x2="439.30" y2="183.80" stroke="#4f6388" stroke-width="1.1"/>
<line x1="439.30" y1="183.80" x2="467.50" y2="197.90" stroke="#4f6388" stroke-width="1.1" stroke-dasharray="0.9 0.9"/>
<circle cx="379.30" cy="154.00" r="1.4" fill="#15253f"/>
<circle cx="399.20" cy="160.70" r="1.4" fill="#15253f"/>
<circle cx="409.40" cy="168.20" r="1.4" fill="#15253f"/>
<circle cx="439.30" cy="183.80" r="1.4" fill="#15253f"/>
<line x1="369.50" y1="161.87" x2="389.00" y2="186.64" stroke="#c44444" stroke-width="1.1"/>
<line x1="389.00" y1="186.64" x2="397.87" y2="197.90" stroke="#c44444" stroke-width="1.1" stroke-dasharray="0.9 0.9"/>
<circle cx="370.40" cy="164.60" r="1.4" fill="#7a1525"/>
<circle cx="372.30" cy="167.00" r="1.4" fill="#7a1525"/>
<circle cx="378.70" cy="174.70" r="1.4" fill="#7a1525"/>
<circle cx="380.30" cy="177.00" r="1.4" fill="#7a1525"/>
<circle cx="381.70" cy="179.90" r="1.4" fill="#7a1525"/>
<circle cx="388.70" cy="183.70" r="1.4" fill="#7a1525"/>
<text x="107.50" y="230.20" font-family="Liberation Sans, sans-serif" font-size="8.7" text-anchor="middle" fill="#222" stroke="#222" stroke-width="0.12">Octocog alfa (7)</text>
<path d="M35.50 235.10V306.10H179.10 M32.50 306.10H35.50 M32.50 297.19H35.50 M32.50 291.98H35.50 M32.50 288.28H35.50 M32.50 285.41H35.50 M32.50 283.07H35.50 M32.50 281.09H35.50 M32.50 279.37H35.50 M32.50 277.85H35.50 M32.50 276.50H35.50 M32.50 267.59H35.50 M32.50 262.38H35.50 M32.50 258.68H35.50 M32.50 255.81H35.50 M32.50 253.47H35.50 M32.50 251.49H35.50 M32.50 249.77H35.50 M32.50 248.25H35.50 M32.50 246.90H35.50 M32.50 237.99H35.50 M35.50 306.10V309.10 M45.54 306.10V309.10 M55.58 306.10V309.10 M65.62 306.10V309.10 M75.66 306.10V309.10 M85.70 306.10V309.10 M95.74 306.10V309.10 M105.78 306.10V309.10 M115.82 306.10V309.10 M125.86 306.10V309.10 M135.90 306.10V309.10 M145.94 306.10V309.10 M155.98 306.10V309.10 M166.02 306.10V309.10 M176.06 306.10V309.10" stroke="#161616" stroke-width="1.15" fill="none"/>
<text x="29.00" y="308.30" font-family="Liberation Sans, sans-serif" font-size="6.5" text-anchor="end" fill="#333" stroke="#333" stroke-width="0.28" transform="translate(29.00 0) scale(0.86 1) translate(-29.00 0)">1</text>
<text x="29.00" y="278.70" font-family="Liberation Sans, sans-serif" font-size="6.5" text-anchor="end" fill="#333" stroke="#333" stroke-width="0.28" transform="translate(29.00 0) scale(0.86 1) translate(-29.00 0)">10</text>
<text x="29.00" y="249.10" font-family="Liberation Sans, sans-serif" font-size="6.5" text-anchor="end" fill="#333" stroke="#333" stroke-width="0.28" transform="translate(29.00 0) scale(0.86 1) translate(-29.00 0)">100</text>
<text x="35.50" y="317.80" font-family="Liberation Sans, sans-serif" font-size="6.3" text-anchor="middle" fill="#333" stroke="#333" stroke-width="0.28" transform="translate(35.50 0) scale(0.82 1) translate(-35.50 0)">0</text>
<text x="45.54" y="317.80" font-family="Liberation Sans, sans-serif" font-size="6.3" text-anchor="middle" fill="#333" stroke="#333" stroke-width="0.28" transform="translate(45.54 0) scale(0.82 1) translate(-45.54 0)">1</text>
<text x="55.58" y="317.80" font-family="Liberation Sans, sans-serif" font-size="6.3" text-anchor="middle" fill="#333" stroke="#333" stroke-width="0.28" transform="translate(55.58 0) scale(0.82 1) translate(-55.58 0)">2</text>
<text x="65.62" y="317.80" font-family="Liberation Sans, sans-serif" font-size="6.3" text-anchor="middle" fill="#333" stroke="#333" stroke-width="0.28" transform="translate(65.62 0) scale(0.82 1) translate(-65.62 0)">3</text>
<text x="75.66" y="317.80" font-family="Liberation Sans, sans-serif" font-size="6.3" text-anchor="middle" fill="#333" stroke="#333" stroke-width="0.28" transform="translate(75.66 0) scale(0.82 1) translate(-75.66 0)">4</text>
<text x="85.70" y="317.80" font-family="Liberation Sans, sans-serif" font-size="6.3" text-anchor="middle" fill="#333" stroke="#333" stroke-width="0.28" transform="translate(85.70 0) scale(0.82 1) translate(-85.70 0)">5</text>
<text x="95.74" y="317.80" font-family="Liberation Sans, sans-serif" font-size="6.3" text-anchor="middle" fill="#333" stroke="#333" stroke-width="0.28" transform="translate(95.74 0) scale(0.82 1) translate(-95.74 0)">6</text>
<text x="105.78" y="317.80" font-family="Liberation Sans, sans-serif" font-size="6.3" text-anchor="middle" fill="#333" stroke="#333" stroke-width="0.28" transform="translate(105.78 0) scale(0.82 1) translate(-105.78 0)">7</text>
<text x="115.82" y="317.80" font-family="Liberation Sans, sans-serif" font-size="6.3" text-anchor="middle" fill="#333" stroke="#333" stroke-width="0.28" transform="translate(115.82 0) scale(0.82 1) translate(-115.82 0)">8</text>
<text x="125.86" y="317.80" font-family="Liberation Sans, sans-serif" font-size="6.3" text-anchor="middle" fill="#333" stroke="#333" stroke-width="0.28" transform="translate(125.86 0) scale(0.82 1) translate(-125.86 0)">9</text>
<text x="135.90" y="317.80" font-family="Liberation Sans, sans-serif" font-size="6.3" text-anchor="middle" fill="#333" stroke="#333" stroke-width="0.28" transform="translate(135.90 0) scale(0.82 1) translate(-135.90 0)">10</text>
<text x="145.94" y="317.80" font-family="Liberation Sans, sans-serif" font-size="6.3" text-anchor="middle" fill="#333" stroke="#333" stroke-width="0.28" transform="translate(145.94 0) scale(0.82 1) translate(-145.94 0)">11</text>
<text x="155.98" y="317.80" font-family="Liberation Sans, sans-serif" font-size="6.3" text-anchor="middle" fill="#333" stroke="#333" stroke-width="0.28" transform="translate(155.98 0) scale(0.82 1) translate(-155.98 0)">12</text>
<text x="166.02" y="317.80" font-family="Liberation Sans, sans-serif" font-size="6.3" text-anchor="middle" fill="#333" stroke="#333" stroke-width="0.28" transform="translate(166.02 0) scale(0.82 1) translate(-166.02 0)">13</text>
<text x="176.06" y="317.80" font-family="Liberation Sans, sans-serif" font-size="6.3" text-anchor="middle" fill="#333" stroke="#333" stroke-width="0.28" transform="translate(176.06 0) scale(0.82 1) translate(-176.06 0)">14</text>
<line x1="39.50" y1="266.82" x2="42.30" y2="267.80" stroke="#4f6388" stroke-width="1.1" stroke-dasharray="0.9 0.9"/>
<line x1="42.30" y1="267.80" x2="104.40" y2="289.54" stroke="#4f6388" stroke-width="1.1"/>
<line x1="104.40" y1="289.54" x2="151.73" y2="306.10" stroke="#4f6388" stroke-width="1.1" stroke-dasharray="0.9 0.9"/>
<circle cx="44.50" cy="265.00" r="1.4" fill="#15253f"/>
<circle cx="55.00" cy="276.70" r="1.4" fill="#15253f"/>
<circle cx="104.40" cy="288.10" r="1.4" fill="#15253f"/>
<line x1="35.50" y1="257.30" x2="55.02" y2="306.10" stroke="#c44444" stroke-width="1.1"/>
<circle cx="36.50" cy="259.80" r="1.4" fill="#7a1525"/>
<circle cx="44.60" cy="281.30" r="1.4" fill="#7a1525"/>
<text x="274.50" y="230.20" font-family="Liberation Sans, sans-serif" font-size="8.7" text-anchor="middle" fill="#222" stroke="#222" stroke-width="0.12">Octocog alfa (8)</text>
<path d="M202.50 235.10V306.10H346.10 M199.50 306.10H202.50 M199.50 297.19H202.50 M199.50 291.98H202.50 M199.50 288.28H202.50 M199.50 285.41H202.50 M199.50 283.07H202.50 M199.50 281.09H202.50 M199.50 279.37H202.50 M199.50 277.85H202.50 M199.50 276.50H202.50 M199.50 267.59H202.50 M199.50 262.38H202.50 M199.50 258.68H202.50 M199.50 255.81H202.50 M199.50 253.47H202.50 M199.50 251.49H202.50 M199.50 249.77H202.50 M199.50 248.25H202.50 M199.50 246.90H202.50 M199.50 237.99H202.50 M202.50 306.10V309.10 M212.54 306.10V309.10 M222.58 306.10V309.10 M232.62 306.10V309.10 M242.66 306.10V309.10 M252.70 306.10V309.10 M262.74 306.10V309.10 M272.78 306.10V309.10 M282.82 306.10V309.10 M292.86 306.10V309.10 M302.90 306.10V309.10 M312.94 306.10V309.10 M322.98 306.10V309.10 M333.02 306.10V309.10 M343.06 306.10V309.10" stroke="#161616" stroke-width="1.15" fill="none"/>
<text x="196.00" y="308.30" font-family="Liberation Sans, sans-serif" font-size="6.5" text-anchor="end" fill="#333" stroke="#333" stroke-width="0.28" transform="translate(196.00 0) scale(0.86 1) translate(-196.00 0)">1</text>
<text x="196.00" y="278.70" font-family="Liberation Sans, sans-serif" font-size="6.5" text-anchor="end" fill="#333" stroke="#333" stroke-width="0.28" transform="translate(196.00 0) scale(0.86 1) translate(-196.00 0)">10</text>
<text x="196.00" y="249.10" font-family="Liberation Sans, sans-serif" font-size="6.5" text-anchor="end" fill="#333" stroke="#333" stroke-width="0.28" transform="translate(196.00 0) scale(0.86 1) translate(-196.00 0)">100</text>
<text x="202.50" y="317.80" font-family="Liberation Sans, sans-serif" font-size="6.3" text-anchor="middle" fill="#333" stroke="#333" stroke-width="0.28" transform="translate(202.50 0) scale(0.82 1) translate(-202.50 0)">0</text>
<text x="212.54" y="317.80" font-family="Liberation Sans, sans-serif" font-size="6.3" text-anchor="middle" fill="#333" stroke="#333" stroke-width="0.28" transform="translate(212.54 0) scale(0.82 1) translate(-212.54 0)">1</text>
<text x="222.58" y="317.80" font-family="Liberation Sans, sans-serif" font-size="6.3" text-anchor="middle" fill="#333" stroke="#333" stroke-width="0.28" transform="translate(222.58 0) scale(0.82 1) translate(-222.58 0)">2</text>
<text x="232.62" y="317.80" font-family="Liberation Sans, sans-serif" font-size="6.3" text-anchor="middle" fill="#333" stroke="#333" stroke-width="0.28" transform="translate(232.62 0) scale(0.82 1) translate(-232.62 0)">3</text>
<text x="242.66" y="317.80" font-family="Liberation Sans, sans-serif" font-size="6.3" text-anchor="middle" fill="#333" stroke="#333" stroke-width="0.28" transform="translate(242.66 0) scale(0.82 1) translate(-242.66 0)">4</text>
<text x="252.70" y="317.80" font-family="Liberation Sans, sans-serif" font-size="6.3" text-anchor="middle" fill="#333" stroke="#333" stroke-width="0.28" transform="translate(252.70 0) scale(0.82 1) translate(-252.70 0)">5</text>
<text x="262.74" y="317.80" font-family="Liberation Sans, sans-serif" font-size="6.3" text-anchor="middle" fill="#333" stroke="#333" stroke-width="0.28" transform="translate(262.74 0) scale(0.82 1) translate(-262.74 0)">6</text>
<text x="272.78" y="317.80" font-family="Liberation Sans, sans-serif" font-size="6.3" text-anchor="middle" fill="#333" stroke="#333" stroke-width="0.28" transform="translate(272.78 0) scale(0.82 1) translate(-272.78 0)">7</text>
<text x="282.82" y="317.80" font-family="Liberation Sans, sans-serif" font-size="6.3" text-anchor="middle" fill="#333" stroke="#333" stroke-width="0.28" transform="translate(282.82 0) scale(0.82 1) translate(-282.82 0)">8</text>
<text x="292.86" y="317.80" font-family="Liberation Sans, sans-serif" font-size="6.3" text-anchor="middle" fill="#333" stroke="#333" stroke-width="0.28" transform="translate(292.86 0) scale(0.82 1) translate(-292.86 0)">9</text>
<text x="302.90" y="317.80" font-family="Liberation Sans, sans-serif" font-size="6.3" text-anchor="middle" fill="#333" stroke="#333" stroke-width="0.28" transform="translate(302.90 0) scale(0.82 1) translate(-302.90 0)">10</text>
<text x="312.94" y="317.80" font-family="Liberation Sans, sans-serif" font-size="6.3" text-anchor="middle" fill="#333" stroke="#333" stroke-width="0.28" transform="translate(312.94 0) scale(0.82 1) translate(-312.94 0)">11</text>
<text x="322.98" y="317.80" font-family="Liberation Sans, sans-serif" font-size="6.3" text-anchor="middle" fill="#333" stroke="#333" stroke-width="0.28" transform="translate(322.98 0) scale(0.82 1) translate(-322.98 0)">12</text>
<text x="333.02" y="317.80" font-family="Liberation Sans, sans-serif" font-size="6.3" text-anchor="middle" fill="#333" stroke="#333" stroke-width="0.28" transform="translate(333.02 0) scale(0.82 1) translate(-333.02 0)">13</text>
<text x="343.06" y="317.80" font-family="Liberation Sans, sans-serif" font-size="6.3" text-anchor="middle" fill="#333" stroke="#333" stroke-width="0.28" transform="translate(343.06 0) scale(0.82 1) translate(-343.06 0)">14</text>
<line x1="202.50" y1="245.36" x2="207.70" y2="248.88" stroke="#4f6388" stroke-width="1.1" stroke-dasharray="0.9 0.9"/>
<line x1="207.70" y1="248.88" x2="227.80" y2="262.49" stroke="#4f6388" stroke-width="1.1"/>
<line x1="227.80" y1="262.49" x2="292.21" y2="306.10" stroke="#4f6388" stroke-width="1.1" stroke-dasharray="0.9 0.9"/>
<circle cx="207.70" cy="248.40" r="1.4" fill="#15253f"/>
<circle cx="217.50" cy="255.20" r="1.4" fill="#15253f"/>
<circle cx="227.80" cy="261.70" r="1.4" fill="#15253f"/>
<line x1="203.90" y1="253.40" x2="211.10" y2="269.53" stroke="#c44444" stroke-width="1.1" stroke-dasharray="0.9 0.9"/>
<line x1="211.10" y1="269.53" x2="227.43" y2="306.10" stroke="#c44444" stroke-width="1.1"/>
<circle cx="211.10" cy="270.20" r="1.4" fill="#7a1525"/>
<circle cx="220.50" cy="288.50" r="1.4" fill="#7a1525"/>
<text x="441.50" y="230.20" font-family="Liberation Sans, sans-serif" font-size="8.7" text-anchor="middle" fill="#222" stroke="#222" stroke-width="0.12">Octocog alfa (9)</text>
<path d="M369.50 235.10V306.10H513.10 M366.50 306.10H369.50 M366.50 297.19H369.50 M366.50 291.98H369.50 M366.50 288.28H369.50 M366.50 285.41H369.50 M366.50 283.07H369.50 M366.50 281.09H369.50 M366.50 279.37H369.50 M366.50 277.85H369.50 M366.50 276.50H369.50 M366.50 267.59H369.50 M366.50 262.38H369.50 M366.50 258.68H369.50 M366.50 255.81H369.50 M366.50 253.47H369.50 M366.50 251.49H369.50 M366.50 249.77H369.50 M366.50 248.25H369.50 M366.50 246.90H369.50 M366.50 237.99H369.50 M369.50 306.10V309.10 M379.54 306.10V309.10 M389.58 306.10V309.10 M399.62 306.10V309.10 M409.66 306.10V309.10 M419.70 306.10V309.10 M429.74 306.10V309.10 M439.78 306.10V309.10 M449.82 306.10V309.10 M459.86 306.10V309.10 M469.90 306.10V309.10 M479.94 306.10V309.10 M489.98 306.10V309.10 M500.02 306.10V309.10 M510.06 306.10V309.10" stroke="#161616" stroke-width="1.15" fill="none"/>
<text x="363.00" y="308.30" font-family="Liberation Sans, sans-serif" font-size="6.5" text-anchor="end" fill="#333" stroke="#333" stroke-width="0.28" transform="translate(363.00 0) scale(0.86 1) translate(-363.00 0)">1</text>
<text x="363.00" y="278.70" font-family="Liberation Sans, sans-serif" font-size="6.5" text-anchor="end" fill="#333" stroke="#333" stroke-width="0.28" transform="translate(363.00 0) scale(0.86 1) translate(-363.00 0)">10</text>
<text x="363.00" y="249.10" font-family="Liberation Sans, sans-serif" font-size="6.5" text-anchor="end" fill="#333" stroke="#333" stroke-width="0.28" transform="translate(363.00 0) scale(0.86 1) translate(-363.00 0)">100</text>
<text x="369.50" y="317.80" font-family="Liberation Sans, sans-serif" font-size="6.3" text-anchor="middle" fill="#333" stroke="#333" stroke-width="0.28" transform="translate(369.50 0) scale(0.82 1) translate(-369.50 0)">0</text>
<text x="379.54" y="317.80" font-family="Liberation Sans, sans-serif" font-size="6.3" text-anchor="middle" fill="#333" stroke="#333" stroke-width="0.28" transform="translate(379.54 0) scale(0.82 1) translate(-379.54 0)">1</text>
<text x="389.58" y="317.80" font-family="Liberation Sans, sans-serif" font-size="6.3" text-anchor="middle" fill="#333" stroke="#333" stroke-width="0.28" transform="translate(389.58 0) scale(0.82 1) translate(-389.58 0)">2</text>
<text x="399.62" y="317.80" font-family="Liberation Sans, sans-serif" font-size="6.3" text-anchor="middle" fill="#333" stroke="#333" stroke-width="0.28" transform="translate(399.62 0) scale(0.82 1) translate(-399.62 0)">3</text>
<text x="409.66" y="317.80" font-family="Liberation Sans, sans-serif" font-size="6.3" text-anchor="middle" fill="#333" stroke="#333" stroke-width="0.28" transform="translate(409.66 0) scale(0.82 1) translate(-409.66 0)">4</text>
<text x="419.70" y="317.80" font-family="Liberation Sans, sans-serif" font-size="6.3" text-anchor="middle" fill="#333" stroke="#333" stroke-width="0.28" transform="translate(419.70 0) scale(0.82 1) translate(-419.70 0)">5</text>
<text x="429.74" y="317.80" font-family="Liberation Sans, sans-serif" font-size="6.3" text-anchor="middle" fill="#333" stroke="#333" stroke-width="0.28" transform="translate(429.74 0) scale(0.82 1) translate(-429.74 0)">6</text>
<text x="439.78" y="317.80" font-family="Liberation Sans, sans-serif" font-size="6.3" text-anchor="middle" fill="#333" stroke="#333" stroke-width="0.28" transform="translate(439.78 0) scale(0.82 1) translate(-439.78 0)">7</text>
<text x="449.82" y="317.80" font-family="Liberation Sans, sans-serif" font-size="6.3" text-anchor="middle" fill="#333" stroke="#333" stroke-width="0.28" transform="translate(449.82 0) scale(0.82 1) translate(-449.82 0)">8</text>
<text x="459.86" y="317.80" font-family="Liberation Sans, sans-serif" font-size="6.3" text-anchor="middle" fill="#333" stroke="#333" stroke-width="0.28" transform="translate(459.86 0) scale(0.82 1) translate(-459.86 0)">9</text>
<text x="469.90" y="317.80" font-family="Liberation Sans, sans-serif" font-size="6.3" text-anchor="middle" fill="#333" stroke="#333" stroke-width="0.28" transform="translate(469.90 0) scale(0.82 1) translate(-469.90 0)">10</text>
<text x="479.94" y="317.80" font-family="Liberation Sans, sans-serif" font-size="6.3" text-anchor="middle" fill="#333" stroke="#333" stroke-width="0.28" transform="translate(479.94 0) scale(0.82 1) translate(-479.94 0)">11</text>
<text x="489.98" y="317.80" font-family="Liberation Sans, sans-serif" font-size="6.3" text-anchor="middle" fill="#333" stroke="#333" stroke-width="0.28" transform="translate(489.98 0) scale(0.82 1) translate(-489.98 0)">12</text>
<text x="500.02" y="317.80" font-family="Liberation Sans, sans-serif" font-size="6.3" text-anchor="middle" fill="#333" stroke="#333" stroke-width="0.28" transform="translate(500.02 0) scale(0.82 1) translate(-500.02 0)">13</text>
<text x="510.06" y="317.80" font-family="Liberation Sans, sans-serif" font-size="6.3" text-anchor="middle" fill="#333" stroke="#333" stroke-width="0.28" transform="translate(510.06 0) scale(0.82 1) translate(-510.06 0)">14</text>
<line x1="370.90" y1="258.10" x2="379.00" y2="265.18" stroke="#4f6388" stroke-width="1.1" stroke-dasharray="0.9 0.9"/>
<line x1="379.00" y1="265.18" x2="419.00" y2="300.14" stroke="#4f6388" stroke-width="1.1"/>
<line x1="419.00" y1="300.14" x2="425.82" y2="306.10" stroke="#4f6388" stroke-width="1.1" stroke-dasharray="0.9 0.9"/>
<circle cx="379.00" cy="264.20" r="1.4" fill="#15253f"/>
<circle cx="409.40" cy="291.50" r="1.4" fill="#15253f"/>
<circle cx="418.80" cy="297.20" r="1.4" fill="#15253f"/>
<line x1="369.50" y1="243.81" x2="399.00" y2="284.81" stroke="#c44444" stroke-width="1.1"/>
<line x1="399.00" y1="284.81" x2="414.32" y2="306.10" stroke="#c44444" stroke-width="1.1" stroke-dasharray="0.9 0.9"/>
<circle cx="370.70" cy="245.70" r="1.4" fill="#7a1525"/>
<circle cx="372.70" cy="248.90" r="1.4" fill="#7a1525"/>
<circle cx="378.60" cy="256.90" r="1.4" fill="#7a1525"/>
<circle cx="379.80" cy="258.70" r="1.4" fill="#7a1525"/>
<circle cx="389.30" cy="269.70" r="1.4" fill="#7a1525"/>
<circle cx="398.80" cy="283.00" r="1.4" fill="#7a1525"/>
<text x="274.4" y="329.5" font-family="Liberation Sans, sans-serif" font-size="8.7" text-anchor="middle" fill="#333" stroke="#333" stroke-width="0.25" textLength="71.5" lengthAdjust="spacingAndGlyphs">Days since FVIII infusion</text>
<text transform="translate(14.2 162.5) rotate(-90)" x="0" y="0" font-family="Liberation Sans, sans-serif" font-size="8.4" text-anchor="middle" fill="#333" stroke="#333" stroke-width="0.2" textLength="61.6" lengthAdjust="spacingAndGlyphs">Factor VIII activity (%)</text>
</g>
<rect x="0.5" y="0.5" width="519" height="337" fill="none" stroke="#383838" stroke-width="1"/>
</svg>
</body></html>
